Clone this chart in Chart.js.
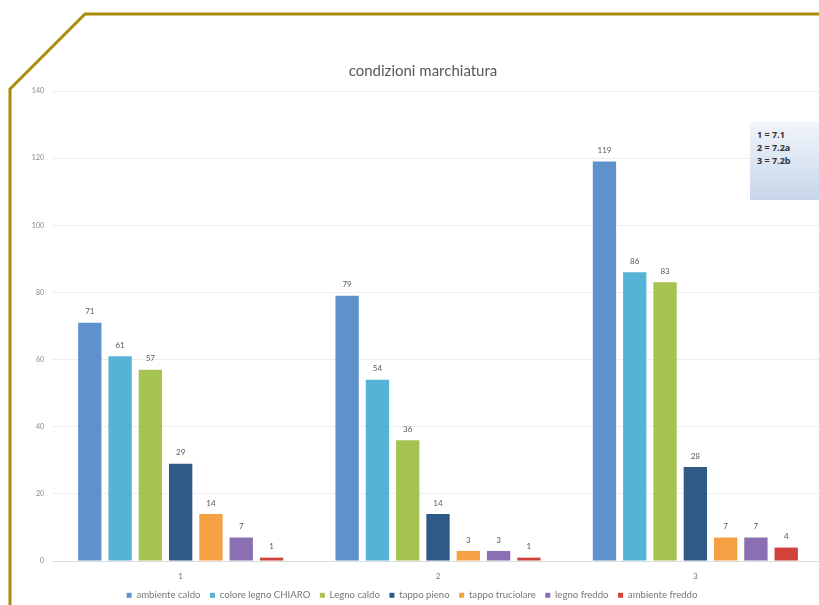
<!DOCTYPE html>
<html>
<head>
<meta charset="utf-8">
<script src="https://cdn.jsdelivr.net/npm/chart.js@4"></script>
<style>
  html, body { margin: 0; padding: 0; background: #fff; overflow: hidden; }
  #wrap { position: absolute; left: 0; top: 0; width: 830px; height: 605px; }
  #title { position: absolute; left: 0; width: 846px; top: 61px; text-align: center;
           font-family: Lato, "Open Sans", sans-serif; font-size: 15px; color: #595959; }
  #note { position: absolute; left: 750px; top: 122px; width: 80px; height: 78px;
          background: linear-gradient(to bottom, #f1f5fb, #c8d6ea);
          font-family: "Open Sans", Lato, sans-serif; font-weight: bold; font-size: 9px;
          color: #333; line-height: 13px; padding: 6px 0 0 7px; box-sizing: border-box; }
  #frame { position: absolute; left: 0; top: 0; }
</style>
</head>
<body>
<div id="wrap"><canvas id="myChart" width="830" height="605"></canvas></div>
<div id="title">condizioni marchiatura</div>
<div id="note">1 = 7.1<br>2 = 7.2a<br>3 = 7.2b</div>
<svg id="frame" width="819" height="605">
  <polyline points="10,605 10,89 85,14 819,14" fill="none" stroke="#a88b06" stroke-width="3"/>
</svg>
<script>
// Dati del grafico
const categorie = ['1', '2', '3'];
const serie = ['ambiente caldo', 'colore legno CHIARO', 'Legno caldo', 'tappo pieno',
               'tappo truciolare', 'legno freddo', 'ambiente freddo'];
const ambienteCaldo = [71, 79, 119];
const coloreLegnoChiaro = [61, 54, 86];
const legnoCaldo = [57, 36, 83];
const tappoPieno = [29, 14, 28];
const tappoTruciolare = [14, 3, 7];
const legnoFreddo = [7, 3, 7];
const ambienteFreddo = [1, 1, 4];
const colori = ['#5f92cd', '#55b3d6', '#a6c250', '#2f5a86', '#f6a044', '#8a70b2', '#d0443b'];

const valori = [ambienteCaldo, coloreLegnoChiaro, legnoCaldo, tappoPieno,
                tappoTruciolare, legnoFreddo, ambienteFreddo];

// Etichette sopra le barre
const etichette = {
    id: 'etichette',
    afterDatasetsDraw(chart) {
        const ctx = chart.ctx;
        ctx.save();
        ctx.font = '8px Lato, "Open Sans", sans-serif';
        ctx.fillStyle = '#595959';
        ctx.textAlign = 'center';
        ctx.textBaseline = 'bottom';
        chart.data.datasets.forEach((ds, i) => {
            chart.getDatasetMeta(i).data.forEach((bar, j) => {
                ctx.fillText(ds.data[j], bar.x, bar.y - 7);
            });
        });
        ctx.restore();
    }
};

const ctx = document.getElementById('myChart').getContext('2d');
new Chart(ctx, {
    type: 'bar',
    data: {
        labels: categorie,
        datasets: serie.map((nome, i) => ({
            label: nome,
            data: valori[i],
            backgroundColor: colori[i],
            borderWidth: 0,
            categoryPercentage: 0.824,
            barPercentage: 0.77
        }))
    },
    options: {
        responsive: false,
        animation: false,
        layout: { padding: { top: 91, right: 6, left: 0, bottom: 0 } },
        plugins: {
            title: { display: false },
            tooltip: { enabled: false },
            legend: {
                position: 'bottom',
                maxHeight: 24,
                labels: {
                    boxWidth: 5,
                    boxHeight: 5,
                    padding: 9.5,
                    color: '#777',
                    font: { size: 9.6, family: 'Lato, "Open Sans", sans-serif' }
                }
            }
        },
        scales: {
            x: {
                grid: { display: false, drawTicks: false },
                border: { color: '#dcdcdc' },
                ticks: { color: '#777', padding: 11, font: { size: 8, family: 'Lato, sans-serif' } },
                afterFit: (scale) => { scale.height = 20; }
            },
            y: {
                min: 0,
                max: 140,
                ticks: { stepSize: 20, color: '#888', padding: 8, font: { size: 7, family: 'Lato, sans-serif' } },
                grid: { color: '#eeeeee', drawTicks: false },
                border: { display: false },
                afterFit: (scale) => { scale.width = 52; }
            }
        }
    },
    plugins: [etichette]
});
</script>
</body>
</html>
